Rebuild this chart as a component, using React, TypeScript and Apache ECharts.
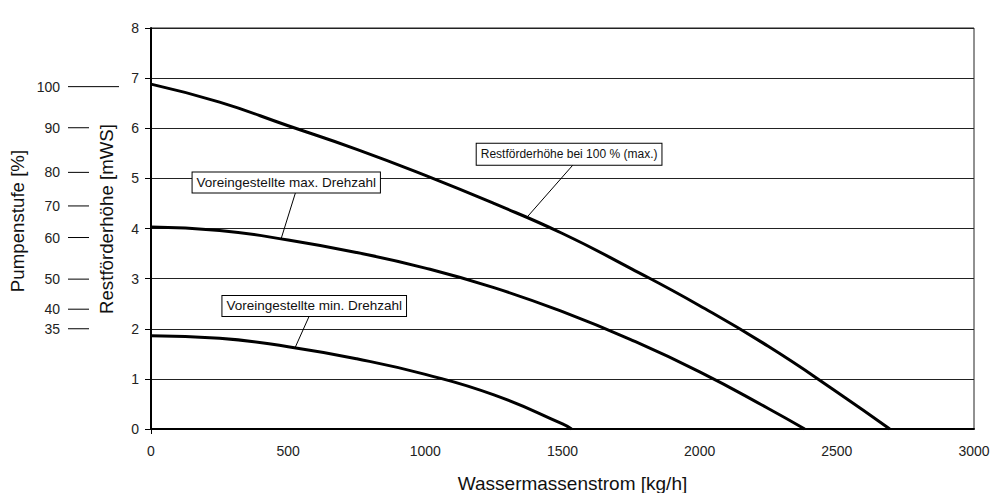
import React, { useEffect, useRef } from "react";
import * as echarts from "echarts";

const FONT = "'Liberation Sans', Arial, Helvetica, sans-serif";

// Flow (kg/h) vs residual head (mWS)
const curve100: [number, number][] = [
  [0, 6.88], [250, 6.52], [500, 6.05], [750, 5.58], [1000, 5.06], [1250, 4.5],
  [1500, 3.9], [1750, 3.2], [2000, 2.46], [2250, 1.65], [2500, 0.74], [2693, 0],
];
const curveMax: [number, number][] = [
  [0, 4.03], [250, 3.96], [500, 3.77], [750, 3.52], [1000, 3.21], [1250, 2.82],
  [1500, 2.34], [1750, 1.78], [2000, 1.14], [2250, 0.41], [2383, 0],
];
const curveMin: [number, number][] = [
  [0, 1.86], [250, 1.81], [500, 1.64], [750, 1.4], [1000, 1.09], [1250, 0.68],
  [1500, 0.1], [1533, 0],
];

// Secondary scale: pump level (%) placed at head values
const pumpLevels = [100, 90, 80, 70, 60, 50, 40, 35];
const pumpLevelHeights = [6.83, 6.01, 5.12, 4.45, 3.82, 2.99, 2.39, 2.0];

// Annotations
const annotationTexts = [
  "Voreingestellte max. Drehzahl",
  "Restförderhöhe bei 100 % (max.)",
  "Voreingestellte min. Drehzahl",
];
const annotationTargets: [number, number][] = [[474, 3.79], [1373, 4.24], [525, 1.62]];
const annotationBoxes: [number, number][] = [[493, 4.92], [1524, 5.48], [595, 2.455]];
const annotationAnchorX = [527, 1537, 577];

const xName = "Wassermassenstrom [kg/h]";
const yName = "Restförderhöhe [mWS]";
const y2Name = "Pumpenstufe [%]";

export default function App() {
  const ref = useRef<HTMLDivElement>(null);
  useEffect(() => {
    if (!ref.current) return;
    const chart = echarts.init(ref.current, undefined, { renderer: "svg" });
    const lineSeries = (data: [number, number][]) => ({
      type: "line",
      data,
      smooth: 0.5,
      showSymbol: false,
      symbol: "none",
      lineStyle: { color: "#000", width: 3 },
      z: 5,
      silent: true,
    });
    chart.setOption({
      animation: false,
      textStyle: { fontFamily: FONT },
      grid: {
        left: 151, right: 18, top: 28, bottom: 64,
        outerBoundsMode: "none",
        containLabel: false,
        show: true, borderColor: "#222", borderWidth: 1,
      },
      xAxis: {
        type: "value",
        min: 0, max: 3000, interval: 500,
        name: xName,
        nameLocation: "middle",
        nameGap: 45,
        nameTextStyle: { fontSize: 19, color: "#111", padding: [0, 0, 0, 20], fontFamily: FONT },
        axisLine: { show: true, lineStyle: { color: "#000", width: 2 } },
        axisTick: { show: true, customValues: [0], length: 5, lineStyle: { color: "#000" } },
        axisLabel: { fontSize: 14, color: "#222", margin: 15, fontFamily: FONT, formatter: (v: number) => String(v) },
        splitLine: { show: true, lineStyle: { color: "#333", width: 1 } },
      },
      yAxis: [
        {
          type: "value",
          min: 0, max: 8, interval: 1,
          name: yName,
          nameLocation: "middle",
          nameGap: 35,
          nameTextStyle: { fontSize: 18.7, color: "#111", padding: [0, 0, 0, 19], fontFamily: FONT },
          axisLine: { show: true, lineStyle: { color: "#000", width: 2 } },
          axisTick: { show: true, length: 6, lineStyle: { color: "#000" } },
          axisLabel: { fontSize: 14, color: "#222", margin: 12, fontFamily: FONT, formatter: (v: number) => String(v) },
          splitLine: { show: true, lineStyle: { color: "#222", width: 1 } },
        },
        {
          type: "value",
          position: "left",
          min: 0, max: 8, interval: 1,
          name: y2Name,
          nameLocation: "middle",
          nameGap: 124,
          nameTextStyle: { fontSize: 18.7, color: "#111", padding: [0, 0, 0, 15], fontFamily: FONT },
          axisLine: { show: false },
          axisTick: { show: false },
          axisLabel: { show: false },
          splitLine: { show: false },
        },
      ],
      series: [
        lineSeries(curve100),
        lineSeries(curveMax),
        lineSeries(curveMin),
        {
          type: "custom",
          clip: false,
          silent: true,
          z: 6,
          data: pumpLevels.map((lvl, i) => [0, pumpLevelHeights[i], lvl]),
          renderItem: (params: any, api: any) => {
            const pt = api.coord([api.value(0), api.value(1)]);
            const lvl = api.value(2);
            const x1 = pt[0] - 83;
            const x2 = lvl === 100 ? pt[0] - 32 : pt[0] - 62;
            return {
              type: "group",
              children: [
                {
                  type: "line",
                  shape: { x1, y1: pt[1], x2, y2: pt[1] },
                  style: { stroke: "#000", lineWidth: 1 },
                },
                {
                  type: "text",
                  x: pt[0] - 91,
                  y: pt[1],
                  style: {
                    text: String(lvl),
                    fontSize: 14,
                    fill: "#222",
                    align: "right",
                    verticalAlign: "middle",
                    fontFamily: FONT,
                  },
                },
              ],
            };
          },
        },
        {
          type: "custom",
          clip: false,
          silent: true,
          z: 10,
          data: annotationTexts.map((_, i) => [
            annotationTargets[i][0], annotationTargets[i][1],
            annotationBoxes[i][0], annotationBoxes[i][1],
            annotationAnchorX[i],
          ]),
          renderItem: (params: any, api: any) => {
            const i = params.dataIndex;
            const p = api.coord([api.value(0), api.value(1)]);
            const c = api.coord([api.value(2), api.value(3)]);
            const a = api.coord([api.value(4), api.value(3)]);
            const small = i === 1;
            const h = small ? 22 : 20;
            return {
              type: "group",
              children: [
                {
                  type: "line",
                  shape: { x1: a[0], y1: c[1] + h / 2, x2: p[0], y2: p[1] },
                  style: { stroke: "#000", lineWidth: 1 },
                },
                {
                  type: "text",
                  x: c[0],
                  y: c[1],
                  style: {
                    text: annotationTexts[i],
                    fontSize: small ? 12 : 13.5,
                    fontFamily: FONT,
                    fill: "#111",
                    align: "center",
                    verticalAlign: "middle",
                    backgroundColor: "#fff",
                    borderColor: "#000",
                    borderWidth: 1,
                    padding: small ? [5, 4, 4, 4] : [3, 4, 3, 4],
                  },
                },
              ],
            };
          },
        },
      ],
    });
    return () => chart.dispose();
  }, []);
  return (
    <div
      ref={ref}
      style={{ position: "fixed", left: 0, top: 0, width: 992, height: 493, background: "#fff" }}
    />
  );
}
